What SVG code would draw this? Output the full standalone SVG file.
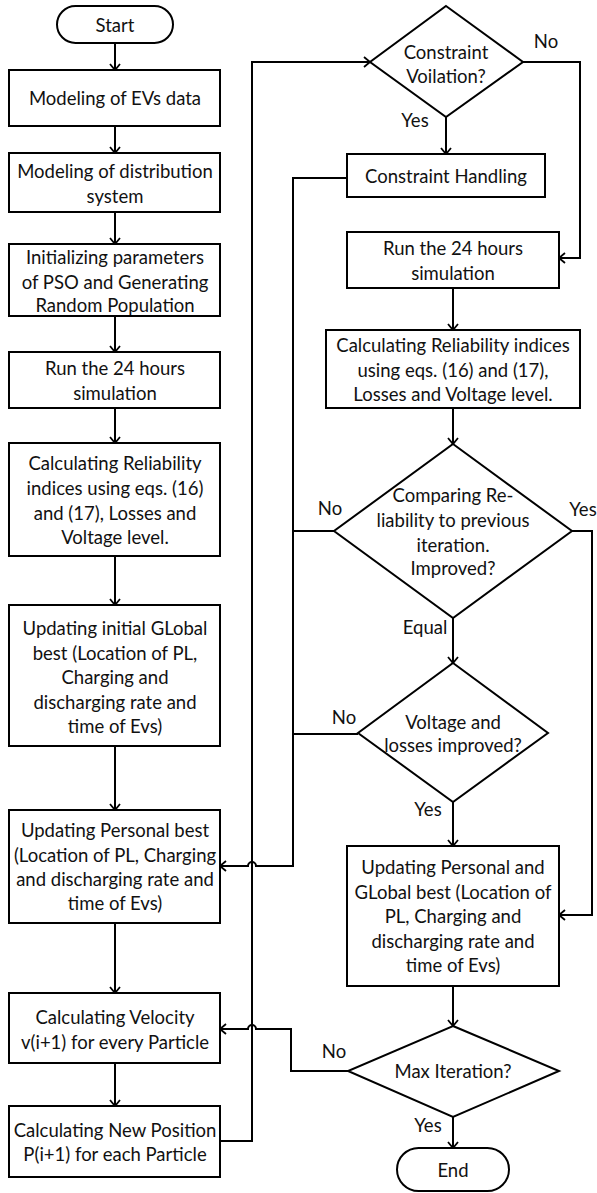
<svg xmlns="http://www.w3.org/2000/svg" width="597" height="1193" viewBox="0 0 597 1193">
<style>
.s{fill:#fff;stroke:#000;stroke-width:2}
.t{font-family:Lato,"Liberation Sans",sans-serif;font-size:18.5px;fill:#111;text-anchor:middle;dominant-baseline:central}
.c{fill:none;stroke:#000;stroke-width:2}
.l{font-family:Lato,"Liberation Sans",sans-serif;font-size:18.5px;fill:#111;text-anchor:middle;dominant-baseline:central}
</style>
<defs>
<marker id="a" viewBox="-8 -7 10 14" refX="0" refY="0" markerWidth="10" markerHeight="14" markerUnits="userSpaceOnUse" orient="auto">
<path d="M-6,-5 L0,0 L-6,5" fill="none" stroke="#000" stroke-width="1.8"/>
</marker>
</defs>
<g id="connectors">
<path class="c" d="M115,43 V70" marker-end="url(#a)"/>
<path class="c" d="M115,126 V153" marker-end="url(#a)"/>
<path class="c" d="M115,212 V244" marker-end="url(#a)"/>
<path class="c" d="M115,316 V352" marker-end="url(#a)"/>
<path class="c" d="M115,408 V443" marker-end="url(#a)"/>
<path class="c" d="M115,556 V605" marker-end="url(#a)"/>
<path class="c" d="M115,746 V810" marker-end="url(#a)"/>
<path class="c" d="M115,923 V993" marker-end="url(#a)"/>
<path class="c" d="M115,1063 V1106" marker-end="url(#a)"/>
<path class="c" d="M220,1141 H252 V62 H370" marker-end="url(#a)"/>
<path class="c" d="M446,117 V154" marker-end="url(#a)"/>
<path class="c" d="M523,62 H580 V258 H559" marker-end="url(#a)"/>
<path class="c" d="M347,178 H293 V866 H256 A4,4 0 0 0 248,866 H220" marker-end="url(#a)"/>
<path class="c" d="M334,531 H293"/>
<path class="c" d="M358,734 H293"/>
<path class="c" d="M453,288 V330" marker-end="url(#a)"/>
<path class="c" d="M453,408 V444" marker-end="url(#a)"/>
<path class="c" d="M453,618 V663" marker-end="url(#a)"/>
<path class="c" d="M572,531 H592 V915 H559" marker-end="url(#a)"/>
<path class="c" d="M453,802 V846" marker-end="url(#a)"/>
<path class="c" d="M453,986 V1026" marker-end="url(#a)"/>
<path class="c" d="M348,1071 H291 V1029 H256 A4,4 0 0 0 248,1029 H220" marker-end="url(#a)"/>
<path class="c" d="M453,1117 V1148" marker-end="url(#a)"/>
<text class="l" x="546" y="41">No</text>
<text class="l" x="415" y="120">Yes</text>
<text class="l" x="330" y="508">No</text>
<text class="l" x="583" y="509">Yes</text>
<text class="l" x="425" y="627">Equal</text>
<text class="l" x="344" y="717">No</text>
<text class="l" x="428" y="809">Yes</text>
<text class="l" x="334" y="1051">No</text>
<text class="l" x="428" y="1125">Yes</text>
</g>
<g id="start"><rect class="s" x="57" y="6" width="116" height="37" rx="18.5"/><text class="t" x="115" y="25">Start</text></g>
<g id="n1"><rect class="s" x="9" y="70" width="211" height="56"/><text class="t" x="115" y="98">Modeling of EVs data</text></g>
<g id="n2"><rect class="s" x="9" y="153" width="211" height="59"/><text class="t" x="115" y="171">Modeling of distribution</text><text class="t" x="115" y="196">system</text></g>
<g id="n3"><rect class="s" x="9" y="244" width="211" height="72"/><text class="t" x="115" y="257">Initializing parameters</text><text class="t" x="115" y="282">of PSO and Generating</text><text class="t" x="115" y="305">Random Population</text></g>
<g id="n4"><rect class="s" x="9" y="352" width="211" height="56"/><text class="t" x="115" y="368">Run the 24 hours</text><text class="t" x="115" y="393">simulation</text></g>
<g id="n5"><rect class="s" x="9" y="443" width="211" height="113"/><text class="t" x="115" y="463">Calculating Reliability</text><text class="t" x="115" y="488">indices using eqs. (16)</text><text class="t" x="115" y="513">and (17), Losses and</text><text class="t" x="115" y="537">Voltage level.</text></g>
<g id="n6"><rect class="s" x="9" y="605" width="211" height="141"/><text class="t" x="115" y="628">Updating initial GLobal</text><text class="t" x="115" y="653">best (Location of PL,</text><text class="t" x="115" y="677">Charging and</text><text class="t" x="115" y="702">discharging rate and</text><text class="t" x="115" y="726">time of Evs)</text></g>
<g id="n7"><rect class="s" x="9" y="810" width="211" height="113"/><text class="t" x="115" y="830">Updating Personal best</text><text class="t" x="115" y="855">(Location of PL, Charging</text><text class="t" x="115" y="879">and discharging rate and</text><text class="t" x="115" y="903">time of Evs)</text></g>
<g id="n8"><rect class="s" x="9" y="993" width="211" height="70"/><text class="t" x="115" y="1017">Calculating Velocity</text><text class="t" x="115" y="1042">v(i+1) for every Particle</text></g>
<g id="n9"><rect class="s" x="9" y="1106" width="211" height="71"/><text class="t" x="115" y="1130">Calculating New Position</text><text class="t" x="115" y="1154">P(i+1) for each Particle</text></g>
<g id="d1"><polygon class="s" points="446,6 523,62 446,117 370,62"/><text class="t" x="446" y="52">Constraint</text><text class="t" x="446" y="76">Voilation?</text></g>
<g id="r1"><rect class="s" x="347" y="154" width="198" height="43"/><text class="t" x="446" y="176">Constraint Handling</text></g>
<g id="r2"><rect class="s" x="347" y="232" width="212" height="56"/><text class="t" x="453" y="248">Run the 24 hours</text><text class="t" x="453" y="273">simulation</text></g>
<g id="r3"><rect class="s" x="326" y="330" width="254" height="78"/><text class="t" x="453" y="345">Calculating Reliability indices</text><text class="t" x="453" y="370">using eqs. (16) and (17),</text><text class="t" x="453" y="394">Losses and Voltage level.</text></g>
<g id="d2"><polygon class="s" points="453,444 572,531 453,618 334,531"/><text class="t" x="453" y="495">Comparing Re-</text><text class="t" x="453" y="520">liability to previous</text><text class="t" x="453" y="545">iteration.</text><text class="t" x="453" y="568">Improved?</text></g>
<g id="d3"><polygon class="s" points="453,663 548,733 453,802 358,733"/><text class="t" x="453" y="722">Voltage and</text><text class="t" x="453" y="745">losses improved?</text></g>
<g id="r4"><rect class="s" x="347" y="846" width="212" height="140"/><text class="t" x="453" y="867">Updating Personal and</text><text class="t" x="453" y="892">GLobal best (Location of</text><text class="t" x="453" y="916">PL, Charging and</text><text class="t" x="453" y="941">discharging rate and</text><text class="t" x="453" y="965">time of Evs)</text></g>
<g id="d4"><polygon class="s" points="453,1026 559,1071 453,1117 348,1071"/><text class="t" x="453" y="1071">Max Iteration?</text></g>
<g id="end"><rect class="s" x="397" y="1148" width="112" height="43" rx="21.5"/><text class="t" x="453" y="1170">End</text></g>
</svg>
